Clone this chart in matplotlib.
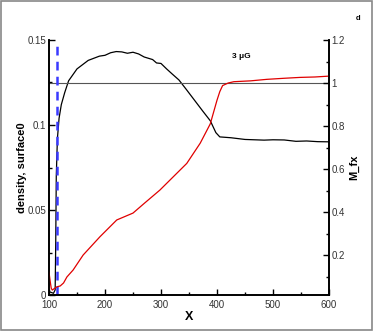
import matplotlib
matplotlib.use("Agg")
import matplotlib.pyplot as plt
from matplotlib.patches import Rectangle
from matplotlib.ticker import MultipleLocator

plt.rcParams['font.family'] = ['Liberation Sans', 'DejaVu Sans']

# density (left axis)
x_dens = [100, 104, 108, 111, 112, 113, 115, 118, 122, 128, 135, 150, 170, 190, 200,
          210, 220, 230, 240, 250, 260, 270, 285, 292, 300, 310, 320, 332, 345, 360,
          375, 388, 398, 405, 425, 450, 484, 500, 520, 541, 560, 580, 600]
density = [0.002, 0.0015, 0.001, 0.003, 0.03, 0.07, 0.092, 0.104, 0.112, 0.119, 0.126,
           0.133, 0.138, 0.1405, 0.141, 0.1425, 0.1432, 0.143, 0.1422, 0.1428, 0.1418,
           0.140, 0.1385, 0.1365, 0.1362, 0.133, 0.130, 0.1265, 0.121, 0.1145, 0.108,
           0.1025, 0.0955, 0.093, 0.0925, 0.0915, 0.0911, 0.0913, 0.0912, 0.0904,
           0.0906, 0.0902, 0.0901]

# M_fx (right axis)
x_mfx = [100, 102, 104, 106, 110, 114, 120, 126, 132, 143, 161, 191, 221, 250, 270,
         298, 322, 346, 370, 388, 400, 405, 410, 420, 430, 460, 489, 520, 548, 575, 600]
m_fx = [0.12, 0.08, 0.045, 0.037, 0.045, 0.052, 0.056, 0.07, 0.098, 0.13, 0.2, 0.285,
        0.363, 0.395, 0.44, 0.502, 0.564, 0.626, 0.72, 0.81, 0.92, 0.96, 0.988, 1.0,
        1.006, 1.01, 1.017, 1.022, 1.026, 1.028, 1.032]

surface_x = 115
ref_level = 0.125

fig = plt.figure(figsize=(3.74, 3.32), dpi=100)
ax = fig.add_axes([49/374, 37/332, 280/374, 255/332])
ax2 = ax.twinx()

ax.plot(x_dens, density, color='black', lw=0.9)
ax.axhline(ref_level, color='#555555', lw=0.8)
ax.axvline(surface_x, color='#3a3aff', lw=1.8, ls=(0, (3.5, 2.5)))
ax2.plot(x_mfx, m_fx, color='#e00000', lw=0.9)

ax.set_xlim(100, 600)
ax.set_ylim(0, 0.15)
ax2.set_ylim(0.014, 1.2)

ax.xaxis.set_major_locator(MultipleLocator(100))
ax.xaxis.set_minor_locator(MultipleLocator(50))
ax.yaxis.set_minor_locator(MultipleLocator(0.025))
ax2.yaxis.set_minor_locator(MultipleLocator(0.1))
ax.set_yticks([0, 0.05, 0.1, 0.15])
ax.set_yticklabels(['0', '0.05', '0.1', '0.15'])
ax2.set_yticks([0.2, 0.4, 0.6, 0.8, 1.0, 1.2])
ax2.set_yticklabels(['0.2', '0.4', '0.6', '0.8', '1', '1.2'])

for a in (ax, ax2):
    a.spines['top'].set_visible(False)
    for s in a.spines.values():
        s.set_linewidth(1.2)
    a.tick_params(which='both', direction='in', labelsize=7, labelcolor='#333333',
                  pad=2, width=1)
    a.tick_params(which='major', length=4.5)
    a.tick_params(which='minor', length=2.5)
ax.tick_params(axis='y', right=False)
ax.tick_params(axis='x', top=False, pad=3.5)

ax.set_xlabel('X', fontsize=9, fontweight='bold', labelpad=1)
ax.set_ylabel('density, surface0', fontsize=8, fontweight='bold')
ax.yaxis.set_label_coords(-0.077, 0.5)
ax2.set_ylabel('M_fx', fontsize=8, fontweight='bold')
ax2.yaxis.set_label_coords(1.072, 0.5)

ax.text(443, 0.1405, '3 \u03bcG', fontsize=6, fontweight='bold', ha='center', va='center')
fig.text(358/374, 1 - 19/332, 'd', fontsize=5.5, fontweight='bold', ha='center', va='center')

fig.patches.append(Rectangle((1/374, 2/332), 371/374, 329/332, transform=fig.transFigure,
                             fill=False, edgecolor='#888888', lw=1.2))

fig.savefig('out.png', dpi=100)
